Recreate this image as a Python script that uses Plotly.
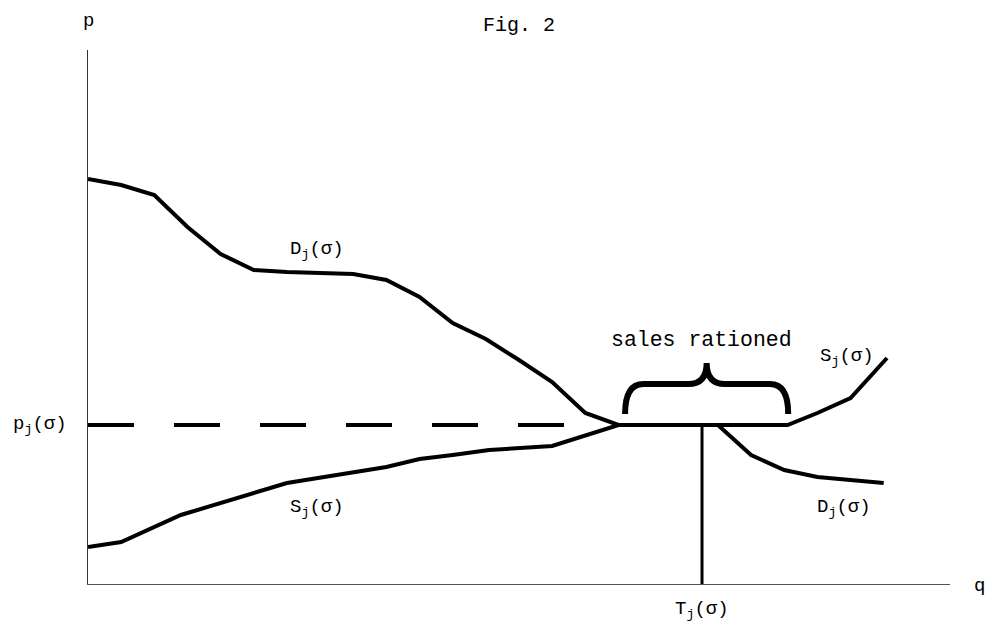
import plotly.graph_objects as go

# ---- data (q in quantity units, p in price units) ----
demand_q = [0, 1, 2, 3, 4, 5, 6, 7, 8, 9, 10, 11, 12, 13, 14, 15, 16, 17, 18, 19, 20, 21, 22, 23, 24]
demand_p = [40.5, 39.9, 38.9, 35.7, 33.0, 31.4, 31.2, 31.1, 31.0, 30.4, 28.7, 26.1, 24.5, 22.4, 20.2,
            17.1, 15.9, 15.9, 15.9, 15.9, 12.9, 11.4, 10.7, 10.4, 10.1]

supply_q = [0, 1, 2.8, 6, 9, 10, 11, 12.1, 14, 16, 21.1, 22, 23, 24.1]
supply_p = [3.7, 4.2, 6.9, 10.1, 11.7, 12.5, 12.9, 13.4, 13.8, 15.9, 15.9, 17.1, 18.6, 22.6]

price_q = [0, 14.4]          # dashed p_j(sigma) line extent
price_level = 15.9
T_q = 18.52                  # T_j(sigma)

brace_left, brace_right = 16.2, 21.12
brace_bottom, brace_mid, brace_tip = 17.0, 20.0, 22.1

x_range = [0, 26]
y_range = [0, 53.4]

FONT = "Liberation Mono, Courier New, monospace"

fig = go.Figure()

fig.add_trace(go.Scatter(x=demand_q, y=demand_p, mode="lines",
                         line=dict(color="black", width=4), hoverinfo="skip"))
fig.add_trace(go.Scatter(x=supply_q, y=supply_p, mode="lines",
                         line=dict(color="black", width=4), hoverinfo="skip"))
fig.add_trace(go.Scatter(x=price_q, y=[price_level, price_level], mode="lines",
                         line=dict(color="black", width=4, dash="46px,40px"), hoverinfo="skip"))
fig.add_trace(go.Scatter(x=[T_q, T_q], y=[0, price_level], mode="lines",
                         line=dict(color="black", width=3), hoverinfo="skip"))

# horizontal curly brace
c = (brace_left + brace_right) / 2
r = 0.55
path = (f"M {brace_left},{brace_bottom} Q {brace_left},{brace_mid} {brace_left + r},{brace_mid} "
        f"L {c - r},{brace_mid} Q {c},{brace_mid} {c},{brace_tip} "
        f"Q {c},{brace_mid} {c + r},{brace_mid} L {brace_right - r},{brace_mid} "
        f"Q {brace_right},{brace_mid} {brace_right},{brace_bottom}")
fig.add_shape(type="path", path=path, xref="x", yref="y",
              line=dict(color="black", width=6))

def ann(x, y, text, size=19, xanchor="center", yanchor="middle"):
    # position given in data units, placed through paper coordinates so that
    # labels outside the axis ranges are still drawn
    fig.add_annotation(x=(x - x_range[0]) / (x_range[1] - x_range[0]),
                       y=(y - y_range[0]) / (y_range[1] - y_range[0]),
                       xref="paper", yref="paper", text=text, showarrow=False,
                       xanchor=xanchor, yanchor=yanchor, borderpad=0,
                       font=dict(family=FONT, size=size, color="black"))

sig = "(σ)"
ann(13.0, 55.9, "Fig. 2", size=20)
ann(0, 56.3, "p", size=19)
ann(26.9, -0.2, "q", size=19)
ann(-1.45, price_level, "p<sub>j</sub>" + sig)
ann(T_q, -2.6, "T<sub>j</sub>" + sig)
ann(6.9, 33.4, "D<sub>j</sub>" + sig)
ann(6.9, 7.6, "S<sub>j</sub>" + sig)
ann(22.9, 22.7, "S<sub>j</sub>" + sig)
ann(22.8, 7.6, "D<sub>j</sub>" + sig)
ann(18.5, 24.4, "sales rationed", size=21.5)

fig.update_xaxes(range=x_range, showgrid=False, zeroline=False, showticklabels=False,
                 ticks="", showline=True, linecolor="#555", linewidth=1, fixedrange=True)
fig.update_yaxes(range=y_range, showgrid=False, zeroline=False, showticklabels=False,
                 ticks="", showline=True, linecolor="#333", linewidth=1, fixedrange=True)

fig.update_layout(width=988, height=627, margin=dict(l=80, r=46, t=42, b=51),
                  plot_bgcolor="white", paper_bgcolor="white", showlegend=False)

fig.write_html("out.html")
